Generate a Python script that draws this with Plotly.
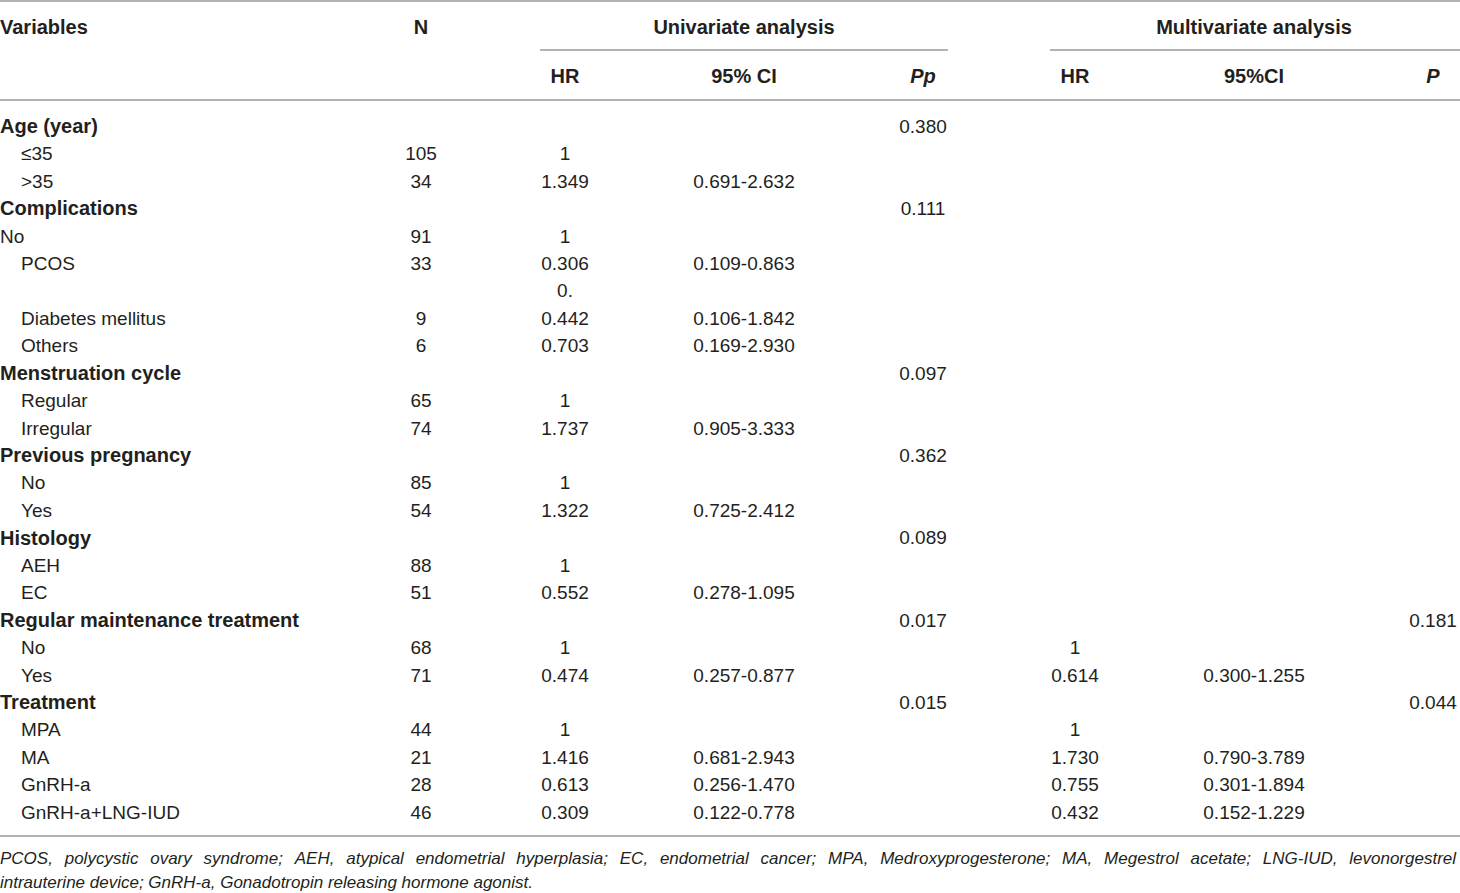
import plotly.graph_objects as go

# ---------------- data ----------------
variables = ["Age (year)", "≤35", ">35", "Complications", "No", "PCOS", "",
             "Diabetes mellitus", "Others", "Menstruation cycle", "Regular", "Irregular",
             "Previous pregnancy", "No", "Yes", "Histology", "AEH", "EC",
             "Regular maintenance treatment", "No", "Yes", "Treatment", "MPA", "MA",
             "GnRH-a", "GnRH-a+LNG-IUD"]
group_rows = [0, 3, 9, 12, 15, 18, 21]
unindented_rows = [4]
n_vals = ["", "105", "34", "", "91", "33", "", "9", "6", "", "65", "74", "", "85", "54",
          "", "88", "51", "", "68", "71", "", "44", "21", "28", "46"]
uni_hr = ["", "1", "1.349", "", "1", "0.306", "0.", "0.442", "0.703", "", "1", "1.737",
          "", "1", "1.322", "", "1", "0.552", "", "1", "0.474", "", "1", "1.416", "0.613", "0.309"]
uni_ci = ["", "", "0.691-2.632", "", "", "0.109-0.863", "", "0.106-1.842", "0.169-2.930",
          "", "", "0.905-3.333", "", "", "0.725-2.412", "", "", "0.278-1.095", "", "",
          "0.257-0.877", "", "", "0.681-2.943", "0.256-1.470", "0.122-0.778"]
uni_p = ["0.380", "", "", "0.111", "", "", "", "", "", "0.097", "", "", "0.362", "", "",
         "0.089", "", "", "0.017", "", "", "0.015", "", "", "", ""]
multi_hr = [""] * 19 + ["1", "0.614", "", "1", "1.730", "0.755", "0.432"]
multi_ci = [""] * 20 + ["0.300-1.255", "", "", "0.790-3.789", "0.301-1.894", "0.152-1.229"]
multi_p = [""] * 18 + ["0.181", "", "", "0.044", "", "", "", ""]

header_top = ["Variables", "N", "Univariate analysis", "Multivariate analysis"]
header_sub = ["HR", "95% CI", "Pp", "HR", "95%CI", "P"]
footnote = ["PCOS, polycystic ovary syndrome; AEH, atypical endometrial hyperplasia; EC, endometrial cancer; MPA, Medroxyprogesterone; MA, Megestrol acetate; LNG-IUD, levonorgestrel",
            "intrauterine device; GnRH-a, Gonadotropin releasing hormone agonist."]

# ---------------- layout constants ----------------
W, H = 1460, 893
ROW0_PX, ROW_PX = 128, 27.44
def py(px):
    return (px - ROW0_PX) / ROW_PX

FONT = "Liberation Sans, Arial, sans-serif"
FS = 19
FSB = 20
FS_NOTE = 17
TXT = "#231f20"
LINE = "#9a9a9a"

X_VAR, X_SUB = 0, 21
X_N, X_UHR, X_UCI, X_UP = 421, 565, 744, 923
X_MHR, X_MCI, X_MP = 1075, 1254, 1433

rows = list(range(len(variables)))
fig = go.Figure()

def text_trace(xs, ys, ts, pos, size):
    fig.add_trace(go.Scatter(x=xs, y=ys, text=ts, mode="text", textposition=pos,
                             hoverinfo="skip", showlegend=False,
                             textfont=dict(family=FONT, size=size, color=TXT)))

def col(texts, x, pos, bold=False):
    ys, ts = [], []
    for i, t in zip(rows, texts):
        if t == "":
            continue
        ys.append(i)
        ts.append(f"<b>{t}</b>" if bold else t)
    text_trace([x] * len(ys), ys, ts, pos, FSB if bold else FS)

# variable column: groups (bold, at left), sub-items (indented)
grp_txt = [v if i in group_rows else "" for i, v in enumerate(variables)]
flat_txt = [v if i in unindented_rows else "" for i, v in enumerate(variables)]
sub_txt = [v if not (i in group_rows or i in unindented_rows) else "" for i, v in enumerate(variables)]
col(grp_txt, X_VAR, "middle right", bold=True)
col(flat_txt, X_VAR, "middle right")
col(sub_txt, X_SUB, "middle right")
col(n_vals, X_N, "middle center")
col(uni_hr, X_UHR, "middle center")
col(uni_ci, X_UCI, "middle center")
col(uni_p, X_UP, "middle center")
col(multi_hr, X_MHR, "middle center")
col(multi_ci, X_MCI, "middle center")
col(multi_p, X_MP, "middle center")

# headers
hy1, hy2 = py(29), py(78)
text_trace([X_VAR], [hy1], [f"<b>{header_top[0]}</b>"], "middle right", FSB)
text_trace([X_N, X_UCI, X_MCI], [hy1] * 3, [f"<b>{t}</b>" for t in header_top[1:]],
           "middle center", FSB)
sub_x = [X_UHR, X_UCI, X_UP, X_MHR, X_MCI, X_MP]
sub_lbl = [f"<b><i>{t}</i></b>" if t.startswith("P") else f"<b>{t}</b>" for t in header_sub]
text_trace(sub_x, [hy2] * 6, sub_lbl, "middle center", FSB)

# footnote (first line justified with extra spacing between words)
JUST = " \u2005\u2006"
note_lines = [footnote[0].replace(" ", JUST), footnote[1]]
for t, fpx in zip(note_lines, [860, 884]):
    text_trace([0], [py(fpx)], [f"<i>{t}</i>"], "middle right", FS_NOTE)

# rules
shapes = []
def hline(x0, x1, px, w=1.3):
    shapes.append(dict(type="line", xref="x", yref="y", x0=x0, x1=x1, y0=py(px), y1=py(px),
                       line=dict(color=LINE, width=w)))
hline(0, W, 1)
hline(540, 948, 50)
hline(1050, W, 50)
hline(0, W, 100)
hline(0, W, 836)

fig.update_layout(
    width=W, height=H, margin=dict(l=0, r=0, t=0, b=0),
    paper_bgcolor="white", plot_bgcolor="white", shapes=shapes,
    xaxis=dict(range=[0, W], visible=False, fixedrange=True),
    yaxis=dict(range=[py(H), py(0)], visible=False, fixedrange=True),
)
fig.write_html("out.html", config={"displayModeBar": False},
               post_script="document.body.style.margin='0';document.body.style.overflow='hidden';")
